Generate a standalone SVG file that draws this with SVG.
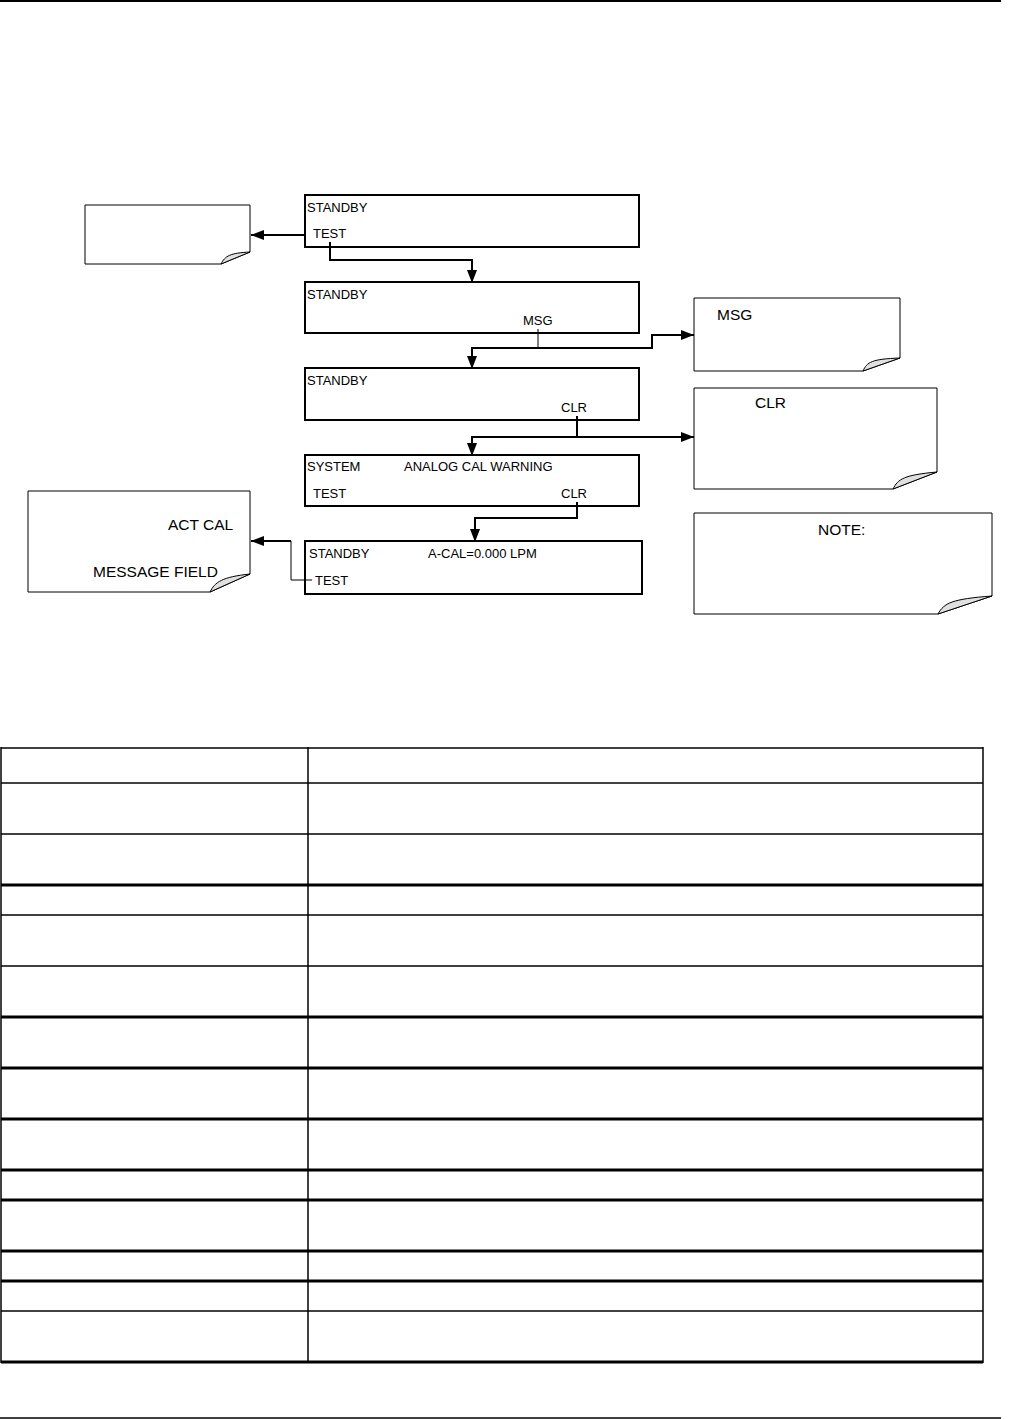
<svg xmlns="http://www.w3.org/2000/svg" width="1014" height="1419" viewBox="0 0 1014 1419">
<style>
.bx{fill:#fff;stroke:#000;stroke-width:2}
.nt{fill:#fff;stroke:#000;stroke-width:1}
.curl{fill:#e0e0e0;stroke:#000;stroke-width:1}
.t{font-family:"Liberation Sans",Arial,sans-serif;font-size:13px;fill:#000}
.tn{font-family:"Liberation Sans",Arial,sans-serif;font-size:15.5px;fill:#000}
.c{fill:none;stroke:#000;stroke-width:2}
.c1{fill:none;stroke:#000;stroke-width:1}
.tl{stroke:#000;stroke-width:1.5}
.tk{stroke:#000;stroke-width:3}
</style>
<defs>
<marker id="ah" markerUnits="userSpaceOnUse" markerWidth="13" markerHeight="10" refX="13" refY="5" orient="auto">
<path d="M0,0 L13,5 L0,10 Z" fill="#000"/>
</marker>
</defs>
<rect width="1014" height="1419" fill="#fff"/>
<line x1="0" y1="1" x2="1001" y2="1" stroke="#000" stroke-width="2"/>
<line x1="0" y1="1418" x2="1001" y2="1418" stroke="#000" stroke-width="1.5"/>

<g id="note-test">
<path class="nt" d="M85,205 H250 V252 L221,264 H85 Z"/>
<path class="curl" d="M221,264 C225,256 230,253 250,252 Z"/>
</g>
<g id="note-actcal">
<path class="nt" d="M28,491 H250 V574 L210,592 H28 Z"/>
<path class="curl" d="M210,592 C215,582 222,577 250,574 Z"/>
<text class="tn" x="168" y="530">ACT CAL</text>
<text class="tn" x="93" y="577">MESSAGE FIELD</text>
</g>
<g id="note-msg">
<path class="nt" d="M694,298 H900 V358 L863,371 H694 Z"/>
<path class="curl" d="M863,371 C867,362 872,359 900,358 Z"/>
<text class="tn" x="717" y="320">MSG</text>
</g>
<g id="note-clr">
<path class="nt" d="M694,388 H937 V472 L893,489 H694 Z"/>
<path class="curl" d="M893,489 C898,479 904,475 937,472 Z"/>
<text class="tn" x="755" y="408">CLR</text>
</g>
<g id="note-note">
<path class="nt" d="M694,513 H992 V596 L938,614 H694 Z"/>
<path class="curl" d="M938,614 C944,603 952,599 992,596 Z"/>
<text class="tn" x="818" y="535">NOTE:</text>
</g>

<g id="box1">
<rect class="bx" x="305" y="195" width="334" height="52"/>
<text class="t" x="307" y="212">STANDBY</text>
<text class="t" x="313" y="238">TEST</text>
</g>
<g id="box2">
<rect class="bx" x="305" y="282" width="334" height="51"/>
<text class="t" x="307" y="299">STANDBY</text>
<text class="t" x="523" y="325">MSG</text>
</g>
<g id="box3">
<rect class="bx" x="305" y="368" width="334" height="52"/>
<text class="t" x="307" y="385">STANDBY</text>
<text class="t" x="561" y="412">CLR</text>
</g>
<g id="box4">
<rect class="bx" x="305" y="455" width="334" height="51"/>
<text class="t" x="307" y="471">SYSTEM</text>
<text class="t" x="404" y="471">ANALOG CAL WARNING</text>
<text class="t" x="313" y="498">TEST</text>
<text class="t" x="561" y="498">CLR</text>
</g>
<g id="box5">
<rect class="bx" x="305" y="541" width="337" height="53"/>
<text class="t" x="309" y="558">STANDBY</text>
<text class="t" x="428" y="558">A-CAL=0.000 LPM</text>
<text class="t" x="315" y="585">TEST</text>
</g>

<g id="connectors">
<path class="c" d="M305,235 H251" marker-end="url(#ah)"/>
<path class="c" d="M330,242 V260 H472 V283" marker-end="url(#ah)"/>
<path class="c1" d="M538,329 V348"/>
<path class="c" d="M538,348 H472 V369" marker-end="url(#ah)"/>
<path class="c" d="M538,348 H652 V335 H694" marker-end="url(#ah)"/>
<path class="c" d="M577,416 V437 H472 V456" marker-end="url(#ah)"/>
<path class="c" d="M577,437 H694" marker-end="url(#ah)"/>
<path class="c" d="M577,502 V518 H475 V542" marker-end="url(#ah)"/>
<path class="c1" d="M312,580 H291 V541"/>
<path class="c" d="M291,541 H251" marker-end="url(#ah)"/>
</g>

<g id="table">
<line class="tl" x1="1" y1="748" x2="983" y2="748"/>
<line class="tl" x1="1" y1="783" x2="983" y2="783"/>
<line class="tl" x1="1" y1="834" x2="983" y2="834"/>
<line class="tk" x1="1" y1="885" x2="983" y2="885"/>
<line class="tl" x1="1" y1="915" x2="983" y2="915"/>
<line class="tl" x1="1" y1="966" x2="983" y2="966"/>
<line class="tk" x1="1" y1="1017" x2="983" y2="1017"/>
<line class="tk" x1="1" y1="1068" x2="983" y2="1068"/>
<line class="tk" x1="1" y1="1119" x2="983" y2="1119"/>
<line class="tk" x1="1" y1="1170" x2="983" y2="1170"/>
<line class="tk" x1="1" y1="1200" x2="983" y2="1200"/>
<line class="tk" x1="1" y1="1251" x2="983" y2="1251"/>
<line class="tk" x1="1" y1="1281" x2="983" y2="1281"/>
<line class="tl" x1="1" y1="1311" x2="983" y2="1311"/>
<line class="tk" x1="1" y1="1362" x2="983" y2="1362"/>
<line class="tl" x1="1" y1="747" x2="1" y2="1363"/>
<line class="tl" x1="308" y1="747" x2="308" y2="1363"/>
<line class="tl" x1="983" y1="747" x2="983" y2="1363"/>
</g>
</svg>
